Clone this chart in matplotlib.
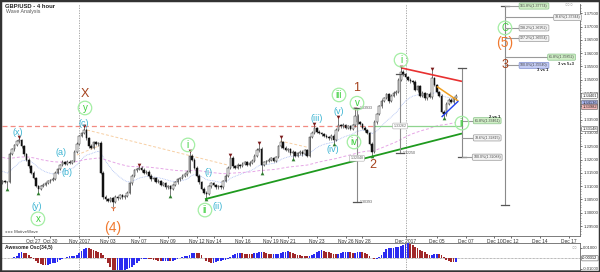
import matplotlib
matplotlib.use("Agg")
import matplotlib.pyplot as plt
from matplotlib.transforms import blended_transform_factory
import numpy as np
import pandas as pd

plt.rcParams['font.family'] = ['Liberation Sans', 'DejaVu Sans']

# ---------------- data (prices in pips above BASE) ----------------
BASE = 1.30000
PIP = 0.0001
first_open_pips = 112
close_pips = [
    118, 115, 116, 222, 240, 255, 268, 272, 250, 220,
    200, 175, 150, 130, 100, 90, 100, 105, 112, 118,
    122, 128, 150, 165, 180, 190, 185, 192, 188, 195,
    230, 260, 290, 300, 312, 280, 250, 245, 265, 258,
    262, 150, 60, 50, 45, 55, 40, 60, 55, 65,
    58, 62, 75, 110, 140, 160, 165, 170, 160, 150,
    155, 140, 125, 130, 115, 120, 105, 110, 95, 100,
    90, 105, 115, 125, 130, 140, 145, 155, 215, 200,
    170, 140, 115, 90, 75, 70, 100, 110, 105, 95,
    100, 95, 120, 140, 170, 205, 175, 170, 180, 175,
    185, 190, 180, 188, 195, 215, 235, 240, 180, 190,
    195, 200, 205, 195, 210, 250, 265, 245, 235, 240,
    225, 230, 215, 225, 230, 220, 235, 215, 285, 300,
    318, 305, 300, 295, 290, 285, 280, 290, 275, 310,
    330, 325, 330, 320, 325, 315, 330, 365, 340, 335,
    320, 310, 300, 260, 230, 340, 370, 400, 420, 430,
    445, 420, 440, 450, 455, 500, 530, 520, 510, 500,
    495, 490, 460, 475, 440, 450, 430, 445, 435, 505,
    480, 455, 440, 380, 370, 410, 425, 415, 430, 440,
]
up_wick_pips = [
    4, 5, 3, 6, 5, 4, 6, 9, 4, 5,
    3, 5, 4, 6, 5, 4, 3, 5, 4, 6,
    4, 5, 6, 4, 5, 8, 4, 5, 6, 4,
    5, 6, 4, 5, 11, 6, 5, 8, 4, 6,
    5, 6, 8, 5, 6, 4, 5, 6, 4, 5,
    4, 5, 6, 5, 6, 4, 5, 6, 5, 7,
    4, 6, 5, 4, 6, 5, 4, 6, 5, 4,
    5, 4, 6, 5, 4, 6, 5, 4, 13, 6,
    5, 6, 4, 5, 6, 5, 4, 6, 5, 4,
    5, 6, 4, 5, 6, 10, 8, 5, 6, 4,
    5, 6, 4, 5, 6, 5, 7, 20, 6, 4,
    5, 4, 6, 5, 4, 6, 16, 5, 6, 4,
    5, 6, 4, 5, 6, 5, 4, 6, 5, 6,
    12, 5, 6, 4, 5, 6, 4, 5, 6, 8,
    26, 5, 6, 4, 5, 6, 5, 21, 6, 5,
    4, 6, 5, 4, 6, 8, 6, 5, 6, 7,
    6, 5, 6, 7, 5, 6, 14, 8, 6, 5,
    6, 5, 8, 6, 5, 6, 5, 6, 8, 32,
    6, 5, 4, 6, 5, 6, 5, 6, 4, 5,
]
down_wick_pips = [
    4, 5, 22, 5, 4, 6, 5, 4, 6, 5,
    4, 5, 6, 4, 5, 12, 6, 4, 5, 4,
    5, 4, 6, 5, 4, 6, 5, 4, 6, 5,
    4, 5, 6, 4, 5, 6, 5, 4, 6, 5,
    6, 5, 8, 6, 5, 4, 18, 5, 6, 4,
    5, 6, 4, 5, 6, 4, 5, 6, 5, 4,
    6, 5, 4, 6, 5, 4, 6, 5, 4, 6,
    23, 5, 4, 6, 5, 4, 6, 5, 4, 6,
    5, 4, 6, 5, 4, 15, 5, 6, 4, 5,
    6, 4, 5, 6, 4, 5, 6, 4, 5, 6,
    4, 5, 6, 4, 5, 6, 4, 5, 27, 4,
    5, 6, 4, 5, 6, 4, 5, 6, 4, 5,
    6, 20, 5, 4, 6, 5, 4, 6, 5, 4,
    5, 6, 4, 5, 6, 4, 5, 6, 13, 5,
    4, 6, 5, 4, 6, 5, 4, 6, 5, 4,
    6, 5, 4, 6, 13, 6, 5, 4, 6, 5,
    4, 6, 5, 4, 6, 5, 4, 6, 5, 4,
    6, 5, 4, 6, 5, 4, 6, 5, 4, 6,
    5, 4, 6, 5, 10, 6, 5, 4, 6, 5,
]

date_labels = ["Oct 27", "Oct 30", "Nov 2017", "Nov 03", "Nov 07", "Nov 09", "Nov 12",
               "Nov 14", "Nov 16", "Nov 19", "Nov 21", "Nov 23", "Nov 26", "Nov 28",
               "Dec 2017", "Dec 05", "Dec 07", "Dec 10", "Dec 12", "Dec 14", "Dec 17"]
date_bars = [14, 21, 33, 45, 58, 70, 82, 89, 101, 113, 120, 132, 144, 151,
             169, 182, 194, 206, 213, 225, 237]
month_start_bars = [33, 169]

price_ticks = [1.295, 1.300, 1.305, 1.310, 1.315, 1.320, 1.325, 1.330, 1.335,
               1.340, 1.345, 1.350, 1.355, 1.360, 1.365, 1.370, 1.375]

fast_ma_seed = 1.3160
slow_ma_seed = 1.3210

swing_high_bars = [8, 35, 58, 79, 96, 108, 117, 131, 141, 148, 167, 180]
swing_low_bars = [3, 16, 71, 86, 109, 122, 139, 155, 185]
wave4_low_bar = 47

resistance_level = 1.3327
resistance_end_bar = 156
fib_level_end_bar = 192.5

# trend lines: (bar0, price0, bar1, price1)
green_trend = (85.4, 1.3051, 192.5, 1.3298)
red_trend = (167.5, 1.3544, 192.5, 1.3494)
orange_trend = (182.0, 1.3475, 191.0, 1.3420)
blue_trend = (184.0, 1.3360, 191.0, 1.3420)
faded_lines = [(36.3, 1.3311, 94.6, 1.3180), (32.0, 1.3217, 43.0, 1.3258),
               (116.7, 1.3270, 127.8, 1.3247)]

# wave labels: (text, bar, price, kind)
wave_labels = [
    ("(x)", 7.5, 1.3300, "cyan"), ("(y)", 15.4, 1.3022, "cyan"), ("x", 15.8, 1.2977, "circ"),
    ("(a)", 25.4, 1.3228, "cyan"), ("(b)", 27.9, 1.3153, "cyan"), ("(c)", 35.0, 1.3337, "cyan"),
    ("y", 35.4, 1.3394, "circ"), ("X", 35.4, 1.3446, "brown"), ("(4)", 47.1, 1.2943, "orange"),
    ("i", 78.3, 1.3255, "circ"), ("ii", 85.4, 1.3010, "circ"), ("(ii)", 90.8, 1.3022, "cyan"),
    ("(i)", 86.7, 1.3153, "cyan"), ("(iii)", 132.1, 1.3356, "cyan"), ("(iv)", 138.75, 1.3236, "cyan"),
    ("(v)", 141.25, 1.3379, "cyan"), ("iii", 141.25, 1.3443, "circ"), ("v", 148.75, 1.3412, "circ"),
    ("1", 148.75, 1.3469, "brown"), ("iv", 147.5, 1.3266, "circ"), ("2", 155.4, 1.3180, "brown"),
    ("i", 167.1, 1.3574, "circ"), ("ii", 192.5, 1.3337, "circ"), ("C", 210.4, 1.3695, "circ"),
    ("(5)", 210.4, 1.3638, "orange"), ("3", 210.4, 1.3555, "brown"),
]

# measuring tools: (bar, top price, bottom price)
measure_lines = [(148.75, 1.33933, 1.30393), (166.7, 1.3520, 1.32250),
                 (192.5, 1.35440, 1.32088), (210.4, 1.37774, 1.30300)]
measure_texts = [("1.33933", 148.75, 1.33933), ("1.30393", 148.75, 1.30393),
                 ("1.32250", 166.7, 1.32250)]
measure_boxes = [("1.32048", 148.75, 1.32048), ("1.33262", 166.7, 1.33262)]

# fib labels: (text, line bar, label centre bar, price, kind)
fib_labels = [
    ("61.8%(1.33461)", 192.5, 203.0, 1.33461, "green"),
    ("78.6%(1.32815)", 192.5, 203.0, 1.32815, "grey"),
    ("100.0%(1.32088)", 192.5, 203.0, 1.32088, "grey"),
    ("161.8%(1.37774)", 210.4, 222.5, 1.37774, "green"),
    ("78.6%(1.37344)", 210.4, 236.5, 1.37344, "grey"),
    ("138.2%(1.36952)", 210.4, 222.5, 1.36952, "grey"),
    ("127.2%(1.36554)", 210.4, 222.5, 1.36554, "grey"),
    ("61.8%(1.35852)", 210.4, 234.0, 1.35852, "green"),
    ("100.0%(1.35540)", 210.4, 222.5, 1.35540, "blue"),
]
fib_notes = [("2 vs 1", 206.0, 1.3360), ("3 vs 5+3", 236.0, 1.3559), ("3 vs 1", 226.0, 1.3537)]

axis_boxes = [("1.34401", 1.34401, "white"), ("1.34136", 1.34136, "#aab6ee"),
              ("1.33982", 1.33982, "#f0b8b8"), ("1.33148", 1.33148, "white")]

# ---------------- derived series ----------------
closes = BASE + np.array(close_pips) * PIP
opens = np.concatenate([[BASE + first_open_pips * PIP], closes[:-1]])
highs = np.maximum(opens, closes) + np.array(up_wick_pips) * PIP
lows = np.minimum(opens, closes) - np.array(down_wick_pips) * PIP
bars = np.arange(1, len(closes) + 1)

fast_ma = pd.Series(np.concatenate([[fast_ma_seed], closes])).ewm(span=21, adjust=False).mean().values[1:]
slow_ma = pd.Series(np.concatenate([[slow_ma_seed], closes])).ewm(span=100, adjust=False).mean().values[1:]

median = pd.Series((highs + lows) / 2)
ao = (median.rolling(5, min_periods=1).mean() - median.rolling(34, min_periods=1).mean()).values

# ---------------- figure ----------------
W, H = 600, 272
fig = plt.figure(figsize=(6, 2.72), dpi=100)
fig.patch.set_facecolor('white')
ax = fig.add_axes([2 / W, 1 - 236 / H, 578 / W, 232 / H])
osc = fig.add_axes([2 / W, 1 - 270 / H, 578 / W, 27 / H])

XL = (2 / 2.4, 580 / 2.4)
ax.set_xlim(*XL)
ax.set_ylim(1.29125, 1.37850)
osc.set_xlim(*XL)
osc.set_ylim(-0.01104, 0.01443)

for a in (ax, osc):
    for s in ('left', 'top'):
        a.spines[s].set_visible(False)
    for s in ('right', 'bottom'):
        a.spines[s].set_color('#666666')
        a.spines[s].set_linewidth(0.6)
osc.spines['top'].set_visible(True)
osc.spines['top'].set_color('#666666')
osc.spines['top'].set_linewidth(0.6)

# month separators
for b in month_start_bars:
    ax.axvline(b, color='#9a9a9a', lw=0.6, ls=(0, (1.5, 1.5)), zorder=1)
    osc.axvline(b, color='#9a9a9a', lw=0.6, ls=(0, (1.5, 1.5)), zorder=1)

# moving averages
ax.plot(bars, fast_ma, color='#a9bdf2', lw=0.6, ls=(0, (1, 1)), zorder=2)
ax.plot(bars, slow_ma, color='#e6a6e6', lw=0.7, ls=(0, (3, 2)), zorder=2)

# faded trend lines
for b0, p0, b1, p1 in faded_lines:
    ax.plot([b0, b1], [p0, p1], color='#f7cfa4', lw=0.7, ls=(0, (3, 2)), zorder=2)

# resistance / fib level line
ax.plot([XL[0], resistance_end_bar], [resistance_level] * 2, color='#f28b82', lw=0.9,
        ls=(0, (4, 2.5)), zorder=2)
ax.plot([resistance_end_bar, fib_level_end_bar], [resistance_level] * 2, color='#8fd48f',
        lw=0.9, zorder=2)

# candles
ax.vlines(bars, lows, highs, color='#444444', lw=0.5, zorder=3)
bull = closes >= opens
body_lo = np.minimum(opens, closes)
body_h = np.maximum(np.abs(closes - opens), 0.00008)
ax.bar(bars[bull], body_h[bull], bottom=body_lo[bull], width=0.62, color='white',
       edgecolor='#222222', lw=0.35, zorder=4)
ax.bar(bars[~bull], body_h[~bull], bottom=body_lo[~bull], width=0.62, color='#111111',
       edgecolor='#111111', lw=0.35, zorder=4)

# swing markers
hb = np.array(swing_high_bars)
ax.scatter(hb, highs[hb - 1] + 0.0004, marker='v', s=7, color='#7a1a1a', zorder=5, lw=0)
lb = np.array(swing_low_bars)
ax.scatter(lb, lows[lb - 1] - 0.0004, marker='^', s=7, color='#2f7d2f', zorder=5, lw=0)
ax.scatter([wave4_low_bar], [lows[wave4_low_bar - 1] - 0.0005], marker='1', s=14,
           color='#e0703a', zorder=5, lw=0.8)

# trend lines
for (b0, p0, b1, p1), col, lw in [(green_trend, '#1f9a1f', 1.3), (red_trend, '#e83030', 1.2),
                                  (orange_trend, '#f0a020', 1.1), (blue_trend, '#2040f0', 1.0)]:
    ax.plot([b0, b1], [p0, p1], color=col, lw=lw, zorder=6, solid_capstyle='butt')

# measuring tools
cap = 1.6
for b, top, bot in measure_lines:
    ax.plot([b, b], [bot, top], color='#8a8a8a', lw=0.8, zorder=6)
    for p in (top, bot):
        ax.plot([b - cap, b + cap], [p, p], color='#555555', lw=0.9, zorder=6)
for t, b, p in measure_texts:
    ax.text(b + 1.2, p, t, fontsize=2.6, color='#555555', va='center', ha='left', zorder=7)
for t, b, p in measure_boxes:
    ax.text(b, p, t, fontsize=2.6, color='#666666', va='center', ha='center', zorder=7,
            bbox=dict(boxstyle='round,pad=0.25', fc='white', ec='#aaaaaa', lw=0.4))

box_colors = {"green": ('#cfeec6', '#8cc48c'), "grey": ('#f4f4f4', '#9a9a9a'),
              "blue": ('#c3cbf3', '#8090d0')}
for t, lb_, cb, p, kind in fib_labels:
    fc, ec = box_colors[kind]
    ax.plot([lb_, cb - 5.5], [p, p], color='#9a9a9a', lw=0.8, zorder=6)
    ax.text(cb, p, t, fontsize=2.6, color='#444444', va='center', ha='center', zorder=7,
            bbox=dict(boxstyle='round,pad=0.3', fc=fc, ec=ec, lw=0.5))
for t, b, p in fib_notes:
    ax.text(b, p, t, fontsize=3.0, color='#222222', va='center', ha='center', zorder=7,
            fontweight='bold')

# wave labels
styles = {
    "cyan": dict(color='#3bb4d2', fontsize=6.5),
    "brown": dict(color='#a5421d', fontsize=9),
    "orange": dict(color='#f07a30', fontsize=10),
    "circ": dict(color='#3bcf3b', fontsize=7),
}
for t, b, p, kind in wave_labels:
    if kind == "circ":
        ax.scatter([b], [p], s=95, facecolors='none', edgecolors='#a4eea4', lw=0.9, zorder=8)
    ax.text(b, p, t, ha='center', va='center', zorder=9, **styles[kind])

# price axis
ax.yaxis.tick_right()
ax.set_yticks(price_ticks)
ax.set_yticklabels([f"{v:.5f}" for v in price_ticks])
ax.set_yticks(np.arange(1.292, 1.3785, 0.001), minor=True)
ax.tick_params(axis='y', which='major', labelsize=3.1, length=1.5, width=0.5, pad=0.8,
               colors='#333333')
ax.tick_params(axis='y', which='minor', length=1.0, width=0.4, colors='#555555')

# date axis
ax.set_xticks(date_bars)
ax.set_xticklabels(date_labels)
ax.tick_params(axis='x', labelsize=3.5, length=1.5, width=0.5, pad=0.8, colors='#333333')

trans = blended_transform_factory(ax.transAxes, ax.transData)
for t, p, fc in axis_boxes:
    ax.text(1.004, p, t, transform=trans, fontsize=2.9, va='center', ha='left', color='#222222',
            clip_on=False, zorder=10,
            bbox=dict(boxstyle='round,pad=0.15', fc=fc, ec='#555555', lw=0.4))

# oscillator
ao_up = np.concatenate([[True], ao[1:] >= ao[:-1]])
osc.bar(bars, ao, width=0.75, color=np.where(ao_up, '#2b2bf0', '#a0282a'), lw=0, zorder=3)
osc.axhline(0, color='#777777', lw=0.5, ls=(0, (1, 1)), zorder=2)
osc.yaxis.tick_right()
osc.set_yticks([0.01, -0.01])
osc.set_yticklabels(["0.01000", "-0.01000"])
osc.tick_params(axis='y', labelsize=3.0, length=1.5, width=0.5, pad=0.8, colors='#333333')
osc.set_xticks([])
osc.text(1.004, 0, f"{ao[-1]:.5f}", transform=blended_transform_factory(osc.transAxes, osc.transData),
         fontsize=2.8, va='center', ha='left', clip_on=False,
         bbox=dict(boxstyle='round,pad=0.15', fc='white', ec='#555555', lw=0.4))

# titles & decorations
fig.text(5 / W, 1 - 6 / H, "GBP/USD - 4 hour", fontsize=4.2, fontweight='bold', color='#222222',
         va='center')
fig.text(6 / W, 1 - 12 / H, "Wave Analysis", fontsize=3.8, color='#555555', va='center')
fig.text(5 / W, 1 - 232 / H, "\u25cb\u25cb\u25cb MotiveWave", fontsize=3.2, color='#444444', va='center')
fig.text(565 / W, 1 - 5 / H, "\u25cb\u25cb\u25cb", fontsize=3.5, color='#999999', va='center')
fig.text(572 / W, 1 - 248 / H, "\u25cb\u25cb", fontsize=3.5, color='#999999', va='center')
fig.text(5 / W, 1 - 248 / H, "Awesome Osc(34,5)", fontsize=3.6, fontweight='bold',
         color='#222222', va='center')

# outer frame
fig.add_artist(plt.Rectangle((0, 0), 1, 1, transform=fig.transFigure, fill=False,
                             ec='#333333', lw=2.5))

fig.savefig("out.png", dpi=100)
